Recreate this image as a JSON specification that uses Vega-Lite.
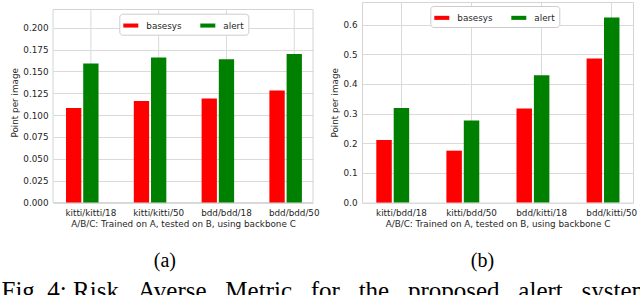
{
  "$schema": "https://vega.github.io/schema/vega-lite/v6.json",
  "padding": {"left": 1, "top": 1, "right": 0, "bottom": 0},
  "background": "white",
  "datasets": {
    "a": [
      {"config": "kitti/kitti/18", "system": "basesys", "value": 0.108},
      {"config": "kitti/kitti/18", "system": "alert", "value": 0.159},
      {"config": "kitti/kitti/50", "system": "basesys", "value": 0.116},
      {"config": "kitti/kitti/50", "system": "alert", "value": 0.166},
      {"config": "bdd/bdd/18", "system": "basesys", "value": 0.119},
      {"config": "bdd/bdd/18", "system": "alert", "value": 0.164},
      {"config": "bdd/bdd/50", "system": "basesys", "value": 0.128},
      {"config": "bdd/bdd/50", "system": "alert", "value": 0.170}
    ],
    "b": [
      {"config": "kitti/bdd/18", "system": "basesys", "value": 0.211},
      {"config": "kitti/bdd/18", "system": "alert", "value": 0.319},
      {"config": "kitti/bdd/50", "system": "basesys", "value": 0.175},
      {"config": "kitti/bdd/50", "system": "alert", "value": 0.277},
      {"config": "bdd/kitti/18", "system": "basesys", "value": 0.317},
      {"config": "bdd/kitti/18", "system": "alert", "value": 0.429},
      {"config": "bdd/kitti/50", "system": "basesys", "value": 0.486},
      {"config": "bdd/kitti/50", "system": "alert", "value": 0.624}
    ],
    "capa": [{"label": "(a)"}],
    "capb": [{"label": "(b)"}],
    "frame": [{}]
  },
  "title": {
    "text": "Fig. 4: Risk \u2002Averse \u2002Metric \u2002for \u2002the \u2002proposed \u2002alert \u2002system",
    "orient": "bottom",
    "anchor": "start",
    "font": "Liberation Serif",
    "fontSize": 25,
    "fontWeight": "normal",
    "color": "black",
    "baseline": "top",
    "dx": -9,
    "offset": 8
  },
  "spacing": 22,
  "vconcat": [
    {
      "hconcat": [
        {
          "width": 260,
          "height": 200.6,
          "view": {"stroke": null},
          "layer": [
            {
              "data": {"name": "frame"},
              "mark": {"type": "rect", "fill": null, "stroke": "#d4d4d4", "strokeWidth": 1},
              "encoding": {
                "y": {"datum": 0, "type": "quantitative", "scale": {"domain": [0, 0.2293], "nice": false, "zero": true},
                      "axis": {"values": [0, 0.025, 0.05, 0.075, 0.1, 0.125, 0.15, 0.175, 0.2], "format": ".3f", "title": "Point per image"}},
                "y2": {"datum": 0.2207}
              }
            },
            {
              "data": {"name": "a"},
              "transform": [{"filter": "datum.system === 'alert'"}],
              "mark": {"type": "rule", "color": "#dadada", "strokeWidth": 1},
              "encoding": {
                "x": {"field": "config", "type": "nominal", "sort": null, "bandPosition": 0.669,
                      "scale": {"paddingInner": 0.165, "paddingOuter": 0},
                      "axis": {"grid": false, "labelOffset": 9.55, "title": "A/B/C: Trained on A, tested on B, using backbone C"}},
                "y": {"datum": 0, "type": "quantitative", "scale": {"domain": [0, 0.2293], "nice": false, "zero": true},
                      "axis": {"values": [0, 0.025, 0.05, 0.075, 0.1, 0.125, 0.15, 0.175, 0.2], "format": ".3f", "title": "Point per image"}},
                "y2": {"datum": 0.2207}
              }
            },
            {
              "data": {"name": "a"},
              "mark": {"type": "bar"},
              "encoding": {
                "x": {"field": "config", "type": "nominal", "sort": null,
                      "scale": {"paddingInner": 0.165, "paddingOuter": 0},
                      "axis": {"grid": false, "labelOffset": 9.55, "title": "A/B/C: Trained on A, tested on B, using backbone C"}},
                "xOffset": {"field": "system", "type": "nominal",
                            "scale": {"domain": ["basesys", "alert"], "paddingInner": 0.11, "paddingOuter": 0.7, "align": 0.54}},
                "y": {"field": "value", "type": "quantitative", "scale": {"domain": [0, 0.2293], "nice": false, "zero": true},
                      "axis": {"values": [0, 0.025, 0.05, 0.075, 0.1, 0.125, 0.15, 0.175, 0.2], "format": ".3f", "title": "Point per image"}},
                "color": {"field": "system", "type": "nominal",
                          "scale": {"domain": ["basesys", "alert"], "range": ["#ff0000", "#008000"]},
                          "legend": {"orient": "none", "legendX": 66.3, "legendY": 11.7, "direction": "horizontal", "title": null}}
              }
            }
          ]
        },
        {
          "width": 271,
          "height": 200.6,
          "data": {"name": "b"},
          "mark": {"type": "bar"},
          "encoding": {
            "x": {
              "field": "config", "type": "nominal", "sort": null,
              "scale": {"paddingInner": 0.134, "paddingOuter": 0},
              "axis": {"bandPosition": 0.65, "labelOffset": 9.1, "title": "A/B/C: Trained on A, tested on B, using backbone C"}
            },
            "xOffset": {
              "field": "system", "type": "nominal",
              "scale": {"domain": ["basesys", "alert"], "paddingInner": 0.11, "paddingOuter": 0.8, "align": 0.514}
            },
            "y": {
              "field": "value", "type": "quantitative",
              "scale": {"domain": [0, 0.676], "nice": false, "zero": true},
              "axis": {"values": [0, 0.1, 0.2, 0.3, 0.4, 0.5, 0.6], "format": ".1f", "title": "Point per image"}
            },
            "color": {
              "field": "system", "type": "nominal",
              "scale": {"domain": ["basesys", "alert"], "range": ["#ff0000", "#008000"]},
              "legend": {"orient": "none", "legendX": 68.3, "legendY": 4, "direction": "horizontal", "title": null}
            }
          }
        }
      ],
      "spacing": 10,
      "resolve": {
        "scale": {"x": "independent", "y": "independent", "xOffset": "independent", "color": "independent"},
        "legend": {"color": "independent"},
        "axis": {"x": "independent", "y": "independent"}
      }
    },
    {
      "hconcat": [
        {
          "width": 223.8,
          "height": 20,
          "view": {"stroke": null},
          "data": {"name": "capa"},
          "mark": {"type": "text", "font": "Liberation Serif", "fontSize": 20, "color": "black", "baseline": "middle", "align": "center"},
          "encoding": {"text": {"field": "label", "type": "nominal"}}
        },
        {
          "width": 300,
          "height": 20,
          "view": {"stroke": null},
          "data": {"name": "capb"},
          "mark": {"type": "text", "font": "Liberation Serif", "fontSize": 20, "color": "black", "baseline": "middle", "align": "center"},
          "encoding": {"text": {"field": "label", "type": "nominal"}}
        }
      ],
      "spacing": 55.5
    }
  ],
  "config": {
    "font": "DejaVu Sans",
    "view": {"stroke": "#d4d4d4", "strokeWidth": 1},
    "axis": {
      "labelFont": "DejaVu Sans", "titleFont": "DejaVu Sans",
      "labelFontSize": 8.8, "titleFontSize": 8.8, "titleFontWeight": "normal",
      "labelColor": "#262626", "titleColor": "#262626",
      "ticks": false, "domain": false, "grid": true, "gridColor": "#dadada", "gridWidth": 1
    },
    "axisX": {"labelAngle": 0, "labelPadding": 6, "titlePadding": 2},
    "axisY": {"labelPadding": 5, "titlePadding": 3.3},
    "legend": {
      "symbolType": "M-1,-0.27H1V0.27H-1Z",
      "symbolSize": 225,
      "symbolStrokeWidth": 0,
      "symbolOpacity": 1,
      "labelFont": "DejaVu Sans",
      "labelFontSize": 8.8,
      "labelColor": "#262626",
      "labelOffset": 8,
      "columnPadding": 18,
      "padding": 4,
      "fillColor": "white",
      "strokeColor": "#cccccc",
      "cornerRadius": 3
    }
  }
}
